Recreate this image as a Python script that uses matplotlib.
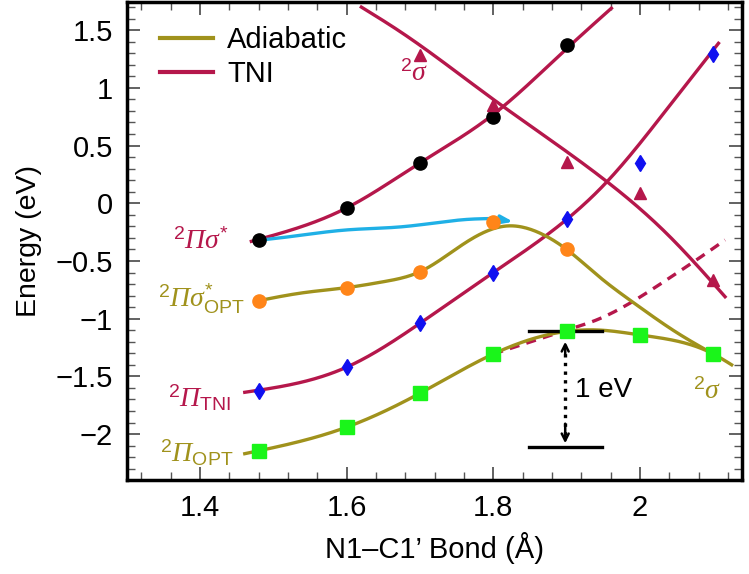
import numpy as np
import matplotlib
matplotlib.use("Agg")
import matplotlib.pyplot as plt
from matplotlib.ticker import MultipleLocator

plt.rcParams['font.family'] = ['Liberation Sans', 'DejaVu Sans']
plt.rcParams['mathtext.fontset'] = 'custom'
plt.rcParams['mathtext.rm'] = 'Liberation Serif:italic'
plt.rcParams['mathtext.it'] = 'Liberation Serif:italic'
plt.rcParams['mathtext.sf'] = 'Liberation Sans'

# ---------------- data ----------------
# markers
x_pis_tni = [1.48, 1.6, 1.7, 1.8, 1.9]
e_pis_tni = [-0.321, -0.043, 0.352, 0.745, 1.372]          # black circles

x_sig_tni = [1.7, 1.8, 1.9, 2.0, 2.1]
e_sig_tni = [1.285, 0.852, 0.361, 0.087, -0.665]            # crimson triangles

x_pi_tni = [1.48, 1.6, 1.7, 1.8, 1.9, 2.0, 2.1]
e_pi_tni = [-1.627, -1.416, -1.035, -0.601, -0.139, 0.352, 1.29]   # blue diamonds

x_pis_opt = [1.48, 1.6, 1.7, 1.8, 1.9, 2.1]
e_pis_opt = [-0.844, -0.731, -0.593, -0.159, -0.399, -1.306]       # orange

x_pi_opt = [1.48, 1.6, 1.7, 1.8, 1.9, 2.0, 2.1]
e_pi_opt = [-2.146, -1.941, -1.646, -1.306, -1.107, -1.141, -1.306]  # green squares

# fitted curves (knots)
cx_pis_tni = [1.47, 1.6, 1.7, 1.8, 1.9, 1.961]
ce_pis_tni = [-0.33, -0.04, 0.35, 0.77, 1.34, 1.69]

cx_sig_tni = [1.62, 1.673, 1.8, 1.955, 2.036, 2.116]
ce_sig_tni = [1.70, 1.487, 0.90, 0.187, -0.26, -0.81]

cx_pi_tni = [1.461, 1.6, 1.7, 1.8, 1.9, 1.955, 2.036, 2.107]
ce_pi_tni = [-1.638, -1.42, -1.04, -0.60, -0.14, 0.187, 0.81, 1.386]

cx_pis_opt = [1.48, 1.541, 1.6, 1.65, 1.7, 1.76, 1.818, 1.864, 1.9, 1.945, 1.993, 2.05, 2.1]
ce_pis_opt = [-0.844, -0.775, -0.731, -0.68, -0.593, -0.35, -0.197, -0.26, -0.40, -0.64, -0.87, -1.12, -1.306]

cx_pi_opt = [1.461, 1.6, 1.7, 1.8, 1.9, 1.948, 2.0, 2.1, 2.125]
ce_pi_opt = [-2.17, -1.94, -1.646, -1.306, -1.11, -1.10, -1.141, -1.306, -1.40]

cx_dash = [1.8, 1.9, 1.945, 2.036, 2.1, 2.116]
ce_dash = [-1.306, -1.10, -1.0, -0.665, -0.39, -0.318]

cx_cyan = [1.48, 1.523, 1.6, 1.673, 1.727, 1.764, 1.8]
ce_cyan = [-0.321, -0.289, -0.231, -0.205, -0.165, -0.14, -0.132]
cyan_tip = (1.827, -0.16)

# 1 eV marker
bar_x = [1.848, 1.948]
bar_top = -1.11
bar_gap = 1.0
arrow_x = 1.898

yticks = [1.5, 1, 0.5, 0, -0.5, -1, -1.5, -2]
yticklabels = ['1.5', '1', '0.5', '0', '\u22120.5', '\u22121', '\u22121.5', '\u22122']
xticks = [1.4, 1.6, 1.8, 2.0]
xticklabels = ['1.4', '1.6', '1.8', '2']

CRIMSON = '#b5174b'
OLIVE = '#a0921c'
CYAN = '#1fb0e6'


def smooth(xk, yk, n=300):
    xk = np.asarray(xk, float)
    yk = np.asarray(yk, float)
    h = np.diff(xk)
    nk = len(xk)
    A = np.zeros((nk, nk))
    r = np.zeros(nk)
    A[0, 0] = A[-1, -1] = 1
    for i in range(1, nk - 1):
        A[i, i - 1] = h[i - 1]
        A[i, i] = 2 * (h[i - 1] + h[i])
        A[i, i + 1] = h[i]
        r[i] = 3 * ((yk[i + 1] - yk[i]) / h[i] - (yk[i] - yk[i - 1]) / h[i - 1])
    c = np.linalg.solve(A, r)
    xs = np.linspace(xk[0], xk[-1], n)
    i = np.clip(np.searchsorted(xk, xs) - 1, 0, nk - 2)
    dx = xs - xk[i]
    b = (yk[i + 1] - yk[i]) / h[i] - h[i] * (2 * c[i] + c[i + 1]) / 3
    d = (c[i + 1] - c[i]) / (3 * h[i])
    return xs, yk[i] + b * dx + c[i] * dx ** 2 + d * dx ** 3


fig = plt.figure(figsize=(7.49, 5.74), dpi=100)
ax = fig.add_axes([127 / 749, 94 / 574, 615 / 749, 478 / 574])

lw = 2.4
ax.plot(*smooth(cx_pis_tni, ce_pis_tni), color=CRIMSON, lw=lw, zorder=2)
ax.plot(*smooth(cx_sig_tni, ce_sig_tni), color=CRIMSON, lw=lw, zorder=2)
ax.plot(*smooth(cx_pi_tni, ce_pi_tni), color=CRIMSON, lw=lw, zorder=2)
ax.plot(*smooth(cx_dash, ce_dash), color=CRIMSON, lw=lw, ls=(0, (3, 2.2)), zorder=2)
ax.plot(*smooth(cx_pis_opt, ce_pis_opt), color=OLIVE, lw=lw, zorder=2)
ax.plot(*smooth(cx_pi_opt, ce_pi_opt), color=OLIVE, lw=lw, zorder=2)

# legend proxies
ax.plot([], [], color=OLIVE, lw=3, label='Adiabatic')
ax.plot([], [], color=CRIMSON, lw=3, label='TNI')

# cyan arrow
ax.plot(*smooth(cx_cyan, ce_cyan), color=CYAN, lw=lw, zorder=3)
ax.annotate('', xy=cyan_tip, xytext=(cx_cyan[-1], ce_cyan[-1]),
            arrowprops=dict(arrowstyle='-|>,head_length=0.7,head_width=0.25',
                            color=CYAN, lw=lw, shrinkA=0, shrinkB=0), zorder=3)

# 1 eV bars
ax.plot(bar_x, [bar_top, bar_top], color='black', lw=2.4, zorder=3)
ax.plot(bar_x, [bar_top - bar_gap, bar_top - bar_gap], color='black', lw=2.4, zorder=3)
ax.plot([arrow_x, arrow_x], [bar_top - 0.12, bar_top - bar_gap + 0.1],
        color='black', lw=2.4, ls=(0, (1, 1.6)), zorder=3)
for y0, y1 in [(bar_top - 0.2, bar_top - 0.09), (bar_top - bar_gap + 0.2, bar_top - bar_gap + 0.03)]:
    ax.annotate('', xy=(arrow_x, y1), xytext=(arrow_x, y0),
                arrowprops=dict(arrowstyle='->,head_length=0.5,head_width=0.25',
                                color='black', lw=1.8, shrinkA=0, shrinkB=0), zorder=3)

# markers
ax.plot(x_pis_tni, e_pis_tni, 'o', color='black', ms=9.5, zorder=5)
ax.plot(x_sig_tni, e_sig_tni, '^', color=CRIMSON, ms=8, zorder=5)
ax.plot(x_pi_tni, e_pi_tni, 'd', color='#1010f0', ms=8.5, zorder=5)
ax.plot(x_pis_opt, e_pis_opt, 'o', color='#ff8519', ms=9.5, zorder=5)
ax.plot(x_pi_opt, e_pi_opt, 's', color='#1af51a', ms=9.5, zorder=5)

# labels
fs_lab = 20
ax.text(1.440, -0.33, r'$^{\mathsf{2}}\Pi\sigma^{\mathsf{*}}$', color=CRIMSON, fontsize=fs_lab,
        ha='right', va='center')
ax.text(1.461, -0.83, r'$^{\mathsf{2}}\Pi\sigma^{\mathsf{*}}_{\mathsf{OPT}}$', color=OLIVE, fontsize=fs_lab,
        ha='right', va='center')
ax.text(1.443, -1.69, r'$^{\mathsf{2}}\Pi_{\mathsf{TNI}}$', color=CRIMSON, fontsize=fs_lab,
        ha='right', va='center')
ax.text(1.446, -2.16, r'$^{\mathsf{2}}\Pi_{\mathsf{OPT}}$', color=OLIVE, fontsize=fs_lab,
        ha='right', va='center')
ax.text(1.692, 1.12, r'$^{\mathsf{2}}\sigma$', color=CRIMSON, fontsize=fs_lab, ha='center', va='center')
ax.text(2.092, -1.635, r'$^{\mathsf{2}}\sigma$', color=OLIVE, fontsize=fs_lab, ha='center', va='center')
ax.text(1.911, -1.62, '1 eV', fontsize=20, ha='left', va='center')

ax.set_xlim(1.3004, 2.1391)
ax.set_ylim(-2.398, 1.744)
ax.set_xticks(xticks)
ax.set_xticklabels(xticklabels)
ax.set_yticks(yticks)
ax.set_yticklabels(yticklabels)
ax.xaxis.set_minor_locator(MultipleLocator(0.04))
ax.yaxis.set_minor_locator(MultipleLocator(0.1))
ax.tick_params(which='both', direction='in', top=True, right=True, color='#555555',
               labelsize=21, pad=10)
ax.tick_params(which='major', length=9.5, width=1.3)
ax.tick_params(which='minor', length=6, width=1.0)
for s in ax.spines.values():
    s.set_linewidth(2.5)

ax.set_xlabel('N1\u2013C1\u2019 Bond (\u00c5)', fontsize=21, labelpad=7)
ax.set_ylabel('Energy (eV)', fontsize=20.5, labelpad=10)

ax.legend(loc='upper left', bbox_to_anchor=(0.054, 0.95), frameon=False, fontsize=21,
          handlelength=1.8, handletextpad=0.5, labelspacing=0.2, borderpad=0, borderaxespad=0)

fig.savefig('out.png', dpi=100)
